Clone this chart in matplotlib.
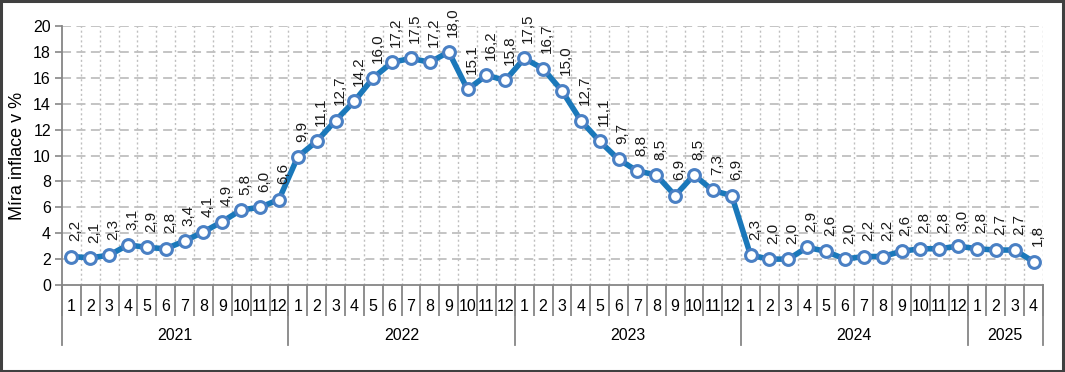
import matplotlib
matplotlib.use("Agg")
import matplotlib.pyplot as plt
from matplotlib.patches import Rectangle

plt.rcParams['font.family'] = ['Liberation Sans', 'DejaVu Sans']

years = ["2021", "2022", "2023", "2024", "2025"]
months_per_year = [12, 12, 12, 12, 4]
values_2021 = [2.2, 2.1, 2.3, 3.1, 2.9, 2.8, 3.4, 4.1, 4.9, 5.8, 6.0, 6.6]
values_2022 = [9.9, 11.1, 12.7, 14.2, 16.0, 17.2, 17.5, 17.2, 18.0, 15.1, 16.2, 15.8]
values_2023 = [17.5, 16.7, 15.0, 12.7, 11.1, 9.7, 8.8, 8.5, 6.9, 8.5, 7.3, 6.9]
values_2024 = [2.3, 2.0, 2.0, 2.9, 2.6, 2.0, 2.2, 2.2, 2.6, 2.8, 2.8, 3.0]
values_2025 = [2.8, 2.7, 2.7, 1.8]
y_label = "Míra inflace v %"

values = values_2021 + values_2022 + values_2023 + values_2024 + values_2025
month_labels = []
for n in months_per_year:
    month_labels += [str(m) for m in range(1, n + 1)]
n = len(values)
x = list(range(n))

fig = plt.figure(figsize=(10.65, 3.72), dpi=100)
ax = fig.add_axes([62/1065, 1 - 285/372, (1043-62)/1065, (285-26)/372])

grid_c = "#BFBFBF"
axis_c = "#868686"
line_c = "#1A78BA"
edge_c = "#4A80C4"

ax.set_xlim(-0.5, n - 0.5)
ax.set_ylim(0, 20)
ax.set_yticks(range(0, 21, 2))
for yv in range(2, 21, 2):
    ax.axhline(yv, color=grid_c, lw=1.3, ls=(0, (5, 3)), zorder=1)
for b in range(1, n + 1):
    ax.axvline(b - 0.5, color=grid_c, lw=1.0, ls=(0, (1.5, 2)), zorder=1)

ax.plot(x, values, color=line_c, lw=4.0, zorder=3, solid_capstyle='round')
ax.plot(x, values, ls='none', marker='o', ms=8.5, mfc='white', mec=edge_c, mew=2.2, zorder=4)

for xi, v in zip(x, values):
    ax.annotate(f"{v:.1f}".replace(".", ","), (xi, v), xytext=(3, 11), textcoords='offset points',
                rotation=90, ha='center', va='bottom', fontsize=11, color='#1a1a1a', zorder=5)

for s in ['top', 'right']:
    ax.spines[s].set_visible(False)
for s in ['left', 'bottom']:
    ax.spines[s].set_color(axis_c)
    ax.spines[s].set_linewidth(1.3)

ax.tick_params(axis='y', length=5, width=1.2, color=axis_c, labelsize=11.5, pad=3)
ax.set_xticks(x)
ax.set_xticklabels(month_labels)
ax.tick_params(axis='x', length=0, labelsize=11.5, pad=10)
ax.set_xticks([b - 0.5 for b in range(0, n + 1)], minor=True)
ax.tick_params(axis='x', which='minor', length=22, width=1.3, color=axis_c)

ax.set_ylabel(y_label, fontsize=13, labelpad=5)

tr = ax.get_xaxis_transform()
start = 0
depth = -(345 - 285) / (285 - 26)
for yr, m in zip(years, months_per_year):
    ax.plot([start - 0.5, start - 0.5], [0, depth], transform=tr, color=axis_c, lw=1.3, clip_on=False)
    ax.text(start - 0.5 + m / 2, -(336 - 285) / (285 - 26), yr, transform=tr, ha='center', va='center',
            fontsize=11.5)
    start += m
ax.plot([start - 0.5, start - 0.5], [0, depth], transform=tr, color=axis_c, lw=1.3, clip_on=False)

fig.patches.append(Rectangle((0.001, 0.002), 0.997, 0.995, transform=fig.transFigure,
                             fill=False, edgecolor='#404040', lw=2.2))

fig.savefig("out.png", dpi=100)
